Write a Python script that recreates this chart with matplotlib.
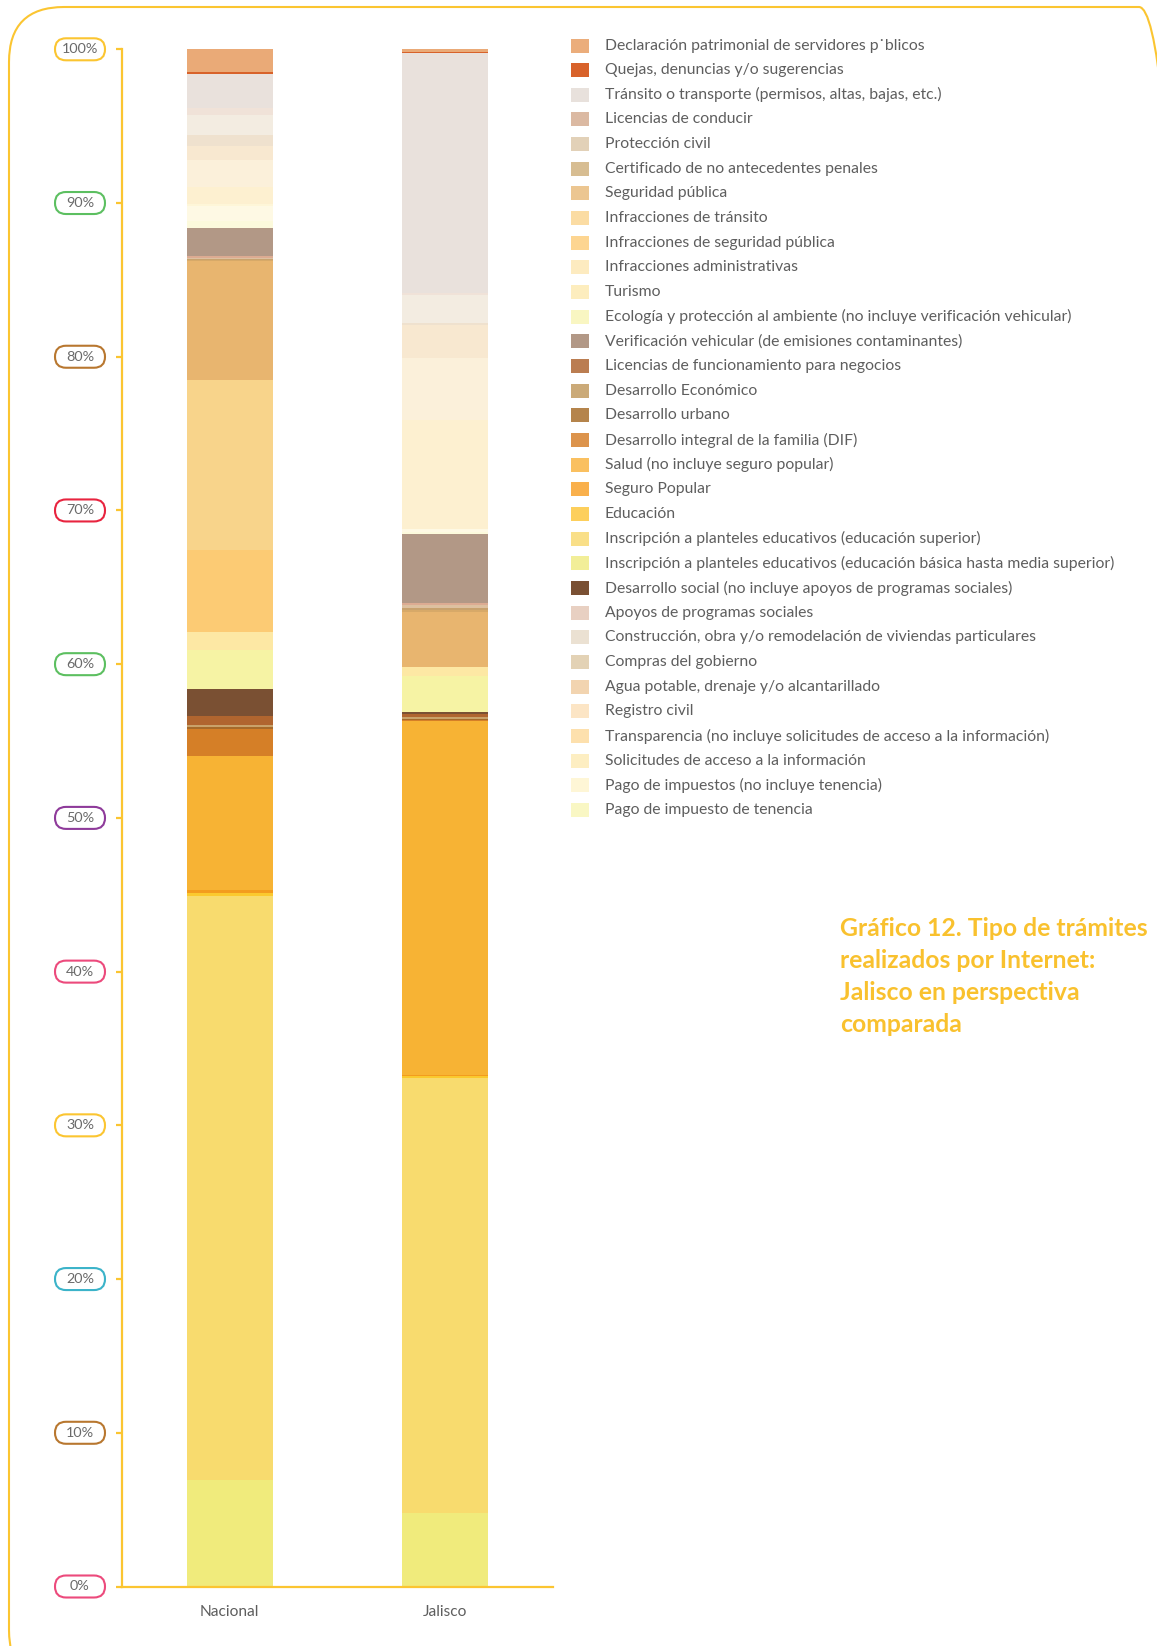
import numpy as np
import matplotlib.pyplot as plt
from matplotlib.patches import FancyBboxPatch, Rectangle
from matplotlib.transforms import IdentityTransform

plt.rcParams['font.family'] = ['Lato', 'DejaVu Sans']

# -------------------------------------------------------------
# DATA (percent of internet procedures, legend order top -> bottom)
# -------------------------------------------------------------
bars = ['Nacional', 'Jalisco']

categories = [
    'Declaración patrimonial de servidores p˙blicos',
    'Quejas, denuncias y/o sugerencias',
    'Tránsito o transporte (permisos, altas, bajas, etc.)',
    'Licencias de conducir',
    'Protección civil',
    'Certificado de no antecedentes penales',
    'Seguridad pública',
    'Infracciones de tránsito',
    'Infracciones de seguridad pública',
    'Infracciones administrativas',
    'Turismo',
    'Ecología y protección al ambiente (no incluye verificación vehicular)',
    'Verificación vehicular (de emisiones contaminantes)',
    'Licencias de funcionamiento para negocios',
    'Desarrollo Económico',
    'Desarrollo urbano',
    'Desarrollo integral de la familia (DIF)',
    'Salud (no incluye seguro popular)',
    'Seguro Popular',
    'Educación',
    'Inscripción a planteles educativos (educación superior)',
    'Inscripción a planteles educativos (educación básica hasta media superior)',
    'Desarrollo social (no incluye apoyos de programas sociales)',
    'Apoyos de programas sociales',
    'Construcción, obra y/o remodelación de viviendas particulares',
    'Compras del gobierno',
    'Agua potable, drenaje y/o alcantarillado',
    'Registro civil',
    'Transparencia (no incluye solicitudes de acceso a la información)',
    'Solicitudes de acceso a la información',
    'Pago de impuestos (no incluye tenencia)',
    'Pago de impuesto de tenencia',
]

nacional = [1.45, 0.15, 2.2, 0.5, 1.3, 0.7, 0.9, 1.75, 1.12, 0.13, 1.0, 0.4,
            1.85, 0.1, 0.1, 0.05, 0.1, 7.7, 11.1, 5.3, 1.2, 2.5, 1.8, 0.55,
            0.15, 0.1, 1.8, 8.7, 0.2, 0.2, 38.0, 6.9]

jalisco = [0.17, 0.08, 15.6, 0.15, 1.8, 0.15, 2.15, 4.0, 7.1, 0.0, 0.2, 0.1,
           4.5, 0.15, 0.2, 0.15, 0.08, 3.6, 0.0, 0.0, 0.6, 2.3, 0.13, 0.25,
           0.12, 0.05, 0.07, 23.0, 0.1, 0.1, 28.3, 4.8]

bar_colors = ['#EAAA77', '#D8622A', '#E9E1DC', '#F0E2D8', '#F3ECE1', '#EFE1CE',
              '#F8E8D0', '#FBF0DA', '#FDF0D0', '#FEF6D8', '#FEF9E4', '#FCFADC',
              '#B29886', '#DCAB92', '#DDC0A0', '#C8A26E', '#D7A968', '#E8B56F',
              '#F8D48B', '#FCCB74', '#FDE8A4', '#F6F3A4', '#7A5033', '#B0652F',
              '#C9A26A', '#A66A2A', '#D57F27', '#F7B334', '#F39C1E', '#FBC92E',
              '#F8DB6E', '#F0EB7C']

legend_colors = ['#EBAD7B', '#D8622A', '#E8E1DC', '#DBB9A2', '#E2D1B8', '#D7BD92',
                 '#ECC691', '#FBDCA3', '#FDD591', '#FDEBC0', '#FDEDBE', '#F9F6C2',
                 '#B29886', '#BB7D51', '#CBAA78', '#B5844C', '#DC934C', '#FAC060',
                 '#F9B04C', '#FDCF5C', '#F9DF88', '#F2EE98', '#7A5033', '#E8D0C2',
                 '#EBE1D2', '#E3D2B5', '#F2D4B0', '#FCE5C5', '#FDE0AD', '#FDEEC2',
                 '#FEF6D6', '#F9F7C4']

y_ticks = [0, 10, 20, 30, 40, 50, 60, 70, 80, 90, 100]
tick_pill_colors = ['#EC4A7C', '#B8772F', '#3BB3C9', '#FBC531', '#EC4A7C', '#8E3A9A',
                    '#5CBF60', '#E8243F', '#B8772F', '#5CBF60', '#FBC531']

title = 'Gráfico 12. Tipo de trámites\nrealizados por Internet:\nJalisco en perspectiva\ncomparada'

YELLOW = '#FBC531'
GREY = '#5E5E5E'

# -------------------------------------------------------------
# FIGURE
# -------------------------------------------------------------
W, H = 1157, 1646
fig = plt.figure(figsize=(W / 100, H / 100), dpi=100)
fig.patch.set_facecolor('white')

# overlay in pixel coordinates for pills, legend and title
bg = fig.add_axes([0, 0, 1, 1], zorder=0)
bg.set_xlim(0, W)
bg.set_ylim(H, 0)
bg.axis('off')

ax = fig.add_axes([122 / W, 1 - 1586.5 / H, (553 - 122) / W, (1586.5 - 49.3) / H], zorder=1)
ax.patch.set_alpha(0)

# stacked bars, bottom of the stack = last legend entry
x = np.arange(len(bars))
bottoms = np.zeros(len(bars))
for i in reversed(range(len(categories))):
    vals = np.array([nacional[i], jalisco[i]])
    ax.bar(x, vals, width=0.4, bottom=bottoms, color=bar_colors[i], linewidth=0)
    bottoms += vals

ax.set_xlim(-0.5, 1.5)
ax.set_ylim(0, 100)
for s in ['top', 'right']:
    ax.spines[s].set_visible(False)
for s in ['left', 'bottom']:
    ax.spines[s].set_color(YELLOW)
    ax.spines[s].set_linewidth(1.6)
ax.set_yticks(y_ticks)
ax.set_yticklabels([])
ax.tick_params(axis='y', length=4.5, width=1.6, color=YELLOW)
ax.set_xticks(x)
ax.set_xticklabels(bars, fontsize=11.2, color=GREY)
ax.tick_params(axis='x', length=0, pad=13)

# pill shaped y tick labels
for v, c in zip(y_ticks, tick_pill_colors):
    yp = H - ax.transData.transform((0, v))[1]
    pill = FancyBboxPatch((55, yp - 11), 50, 22, boxstyle='round,pad=0,rounding_size=11',
                          facecolor='white', edgecolor=c, linewidth=1.5)
    bg.add_patch(pill)
    bg.text(80, yp, f'{v}%', ha='center', va='center', fontsize=10.4, color='#6A6A6A')

# rounded frame, in display pixels (origin bottom left); right side runs off the page
frame = FancyBboxPatch((9, H - 1685), 1185, 1678, boxstyle='round,pad=0,rounding_size=55',
                       fill=False, edgecolor=YELLOW, linewidth=1.5,
                       transform=IdentityTransform())
fig.add_artist(frame)

# legend
for i, lab in enumerate(categories):
    yy = 45.5 + i * 24.66
    bg.add_patch(Rectangle((571, yy - 7), 18, 14, facecolor=legend_colors[i], linewidth=0))
    bg.text(605, yy, lab, ha='left', va='center', fontsize=11.3, color=GREY)

# title
bg.text(840, 917, title, ha='left', va='top', fontsize=17.8, fontweight='bold',
        color='#F9C12E', linespacing=1.47)

fig.savefig('out.png', dpi=100, facecolor='white')
